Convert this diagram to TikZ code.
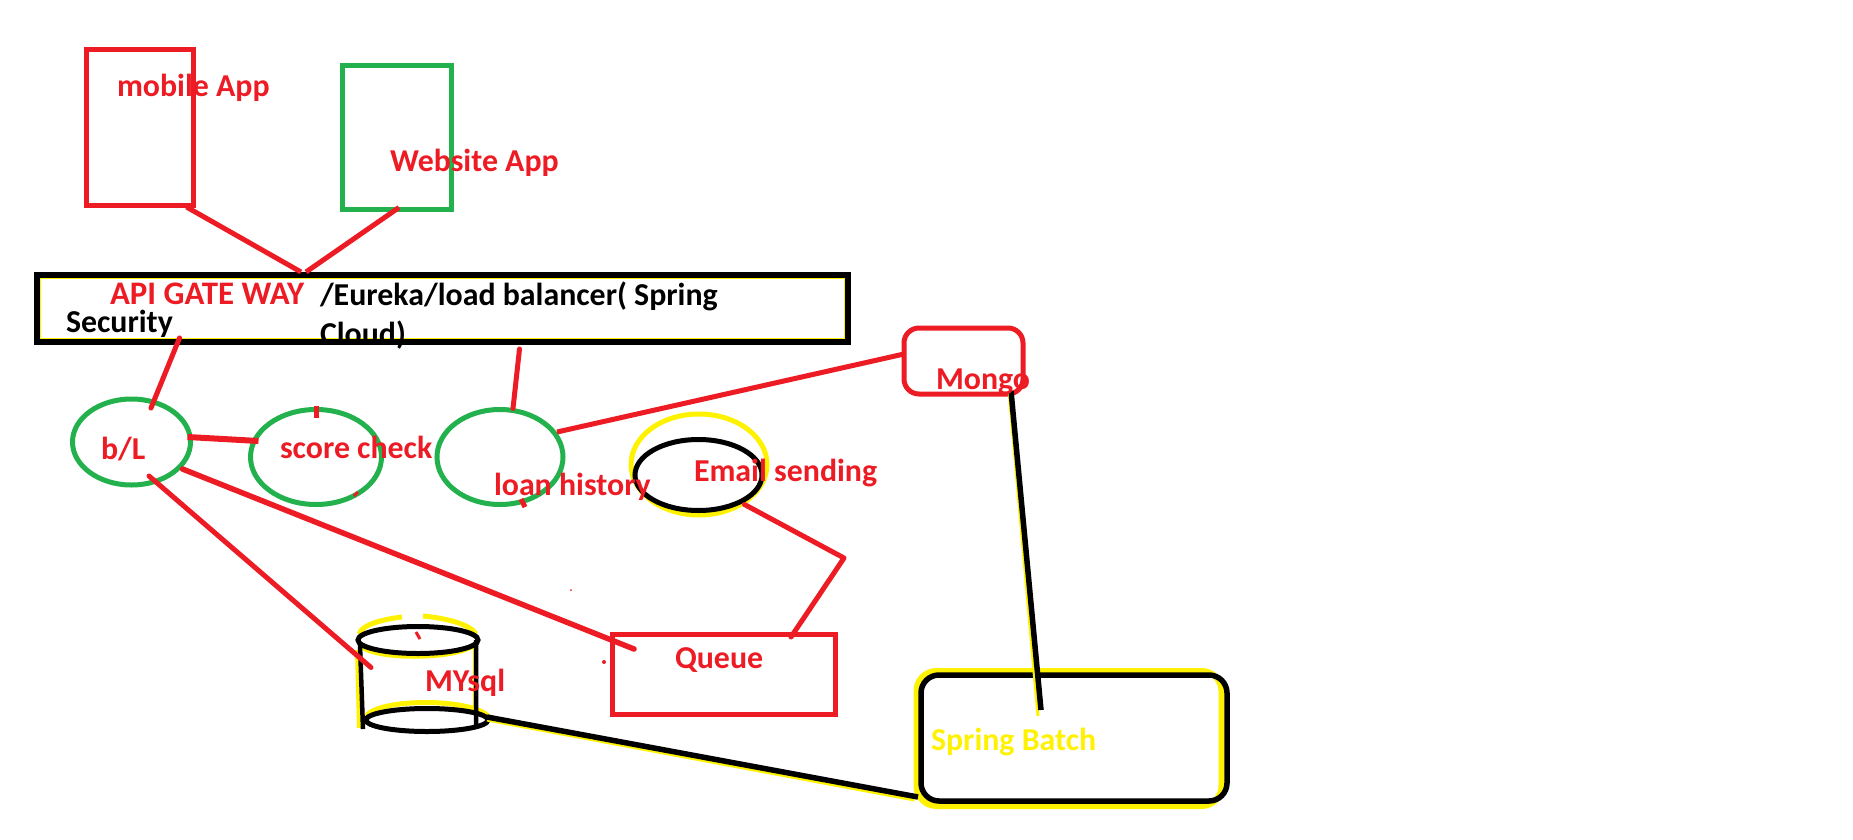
\documentclass[tikz,border=0pt]{standalone}
\usepackage{fontspec}
\setmainfont{Carlito}
\usetikzlibrary{shapes.geometric}
\definecolor{pred}{HTML}{ED1C24}
\definecolor{pgreen}{HTML}{22B14C}
\definecolor{pyellow}{HTML}{FFF200}
\tikzset{
  shapebase/.style={inner sep=0pt,outer sep=0pt,draw},
  box/.style={shapebase,rectangle},
  oval/.style={shapebase,ellipse},
  redbox/.style={box,draw=pred,line width=5bp},
  greenbox/.style={box,draw=pgreen,line width=5bp},
  greenoval/.style={oval,draw=pgreen,line width=5bp},
  blackoval/.style={oval,draw=black,line width=5bp},
  yellowoval/.style={oval,draw=pyellow,line width=5bp},
  redlink/.style={draw=pred,line width=5bp},
  blacklink/.style={draw=black,line width=5.5bp},
  yellowlink/.style={draw=pyellow,line width=3bp},
  tlabel/.style={inner sep=0pt,outer sep=0pt,anchor=base west,font=\fontsize{32}{32}\selectfont\bfseries},
  redtext/.style={tlabel,text=pred},
  blacktext/.style={tlabel,text=black},
  yellowtext/.style={tlabel,text=pyellow},
}
\begin{document}
\begin{tikzpicture}[x=1bp,y=-1bp]
\fill[white] (0,0) rectangle (1853,840);
\useasboundingbox (0,0) rectangle (1853,840);

% clients
\node[redbox,minimum width=107bp,minimum height=155bp] (mobile) at (140,127.5) {};
\node[greenbox,minimum width=109bp,minimum height=144bp] (website) at (397,137.5) {};

% gateway
\node[box,draw=pyellow,line width=3bp,minimum width=806bp,minimum height=62bp] (gatewayglow) at (442.5,308) {};
\node[box,draw=black,line width=6bp,minimum width=811bp,minimum height=67bp] (gateway) at (442.5,308.5) {};

% services
\node[greenoval,minimum width=118bp,minimum height=86bp] (bl) at (131.5,442) {};
\node[greenoval,minimum width=131bp,minimum height=95bp] (score) at (316,457) {};
\node[greenoval,minimum width=126bp,minimum height=95bp] (loan) at (500,457) {};
\node[yellowoval,minimum width=136bp,minimum height=101bp] (emailglow) at (699,464.5) {};
\node[blackoval,minimum width=127bp,minimum height=71bp] (email) at (698.5,475) {};
\node[redbox,minimum width=223bp,minimum height=80bp] (queue) at (724,674) {};
\node[box,rounded corners=15bp,draw=pred,line width=5bp,minimum width=119bp,minimum height=66bp] (mongo) at (963.5,361) {};

% spring batch
\node[box,rounded corners=20bp,draw=pyellow,line width=6bp,minimum width=305bp,minimum height=135bp] (batchglow) at (1069,738.5) {};
\node[box,rounded corners=18bp,draw=black,line width=5.5bp,minimum width=306bp,minimum height=126bp] (batch) at (1074,738) {};

% cylinder
\draw[pyellow,line width=5bp] (359,634) .. controls (362,624) and (385,619) .. (402,617);
\draw[pyellow,line width=5bp] (423,616) .. controls (445,618) and (470,624) .. (476,634);
\draw[pyellow,line width=5bp] (360,645) .. controls (372,660) and (455,660) .. (474,645);
\draw[pyellow,line width=4bp] (357,650) -- (359,728);
\draw[pyellow,line width=3bp] (474,645) -- (474,712);
\draw[pyellow,line width=5bp] (366,716) .. controls (380,698) and (470,698) .. (488,716);
\node[blackoval,minimum width=120bp,minimum height=27bp] (dbtop) at (418,640) {};
\node[blackoval,minimum width=122bp,minimum height=23bp] (dbbase) at (427,720) {};
\coordinate (dbleftbottom) at (363,729);
\coordinate (dbrightbottom) at (476,726);
\draw[blacklink,line width=4.5bp] ([shift={(2,5)}]dbtop.west) -- (dbleftbottom);
\draw[blacklink,line width=4.5bp] ([shift={(-2,0)}]dbtop.east) -- (dbrightbottom);

% red connectors
\coordinate (bend) at (844,558);
\draw[redlink] ([shift={(-7,2)}]mobile.south east) -- ([shift={(-141.5,-3)}]gateway.north);
\draw[redlink] ([shift={(2,-2)}]website.south) -- ([shift={(-136.5,-3)}]gateway.north);
\draw[redlink,line cap=round] ([shift={(-263,-4)}]gateway.south) -- ([shift={(19.5,9)}]bl.north);
\draw[redlink,line cap=round] ([shift={(77,7)}]gateway.south) -- ([shift={(13,-1)}]loan.north);
\draw[redlink,line width=6bp] ([shift={(-3,-5)}]bl.east) -- ([shift={(8,-16)}]score.west);
\draw[redlink,line width=5.5bp,line cap=round] ([shift={(-8,27)}]bl.east) -- ([shift={(21.5,15)}]queue.north west);
\draw[redlink,line cap=round] ([shift={(17.5,-9)}]bl.south) -- ([shift={(-47,14)}]dbtop.south);
\draw[redlink] ([shift={(-6,-25)}]loan.east) -- ([shift={(0,-7)}]mongo.west);
\draw[redlink,line cap=round,line join=round] ([shift={(46,-6)}]email.south) -- (bend) -- ([shift={(67,3)}]queue.north);

% small marks
\draw[redlink] ([shift={(0,-4)}]score.north) -- ([shift={(0,8)}]score.north);
\draw[draw=pred,line width=3bp] (354,496) -- (358,492);
\draw[redlink] (521,499) -- (525,507);
\draw[draw=pred,line width=3bp] (416,632) -- (420,639);
\fill[pred] (571,590) circle (1bp);
\fill[pred] (604,662) circle (2bp);

% black connectors with yellow edges
\draw[yellowlink] ([shift={(-1,0)}]dbbase.east) -- ([shift={(-2,-6)}]batchglow.south west);
\draw[blacklink] ([shift={(-1,-3)}]dbbase.east) -- ([shift={(-3,-4)}]batch.south west);
\draw[yellowlink] ([shift={(45.5,-3)}]mongo.south) -- ([shift={(-36,-85)}]batch.south);
\draw[blacklink] ([shift={(47.5,-3)}]mongo.south) -- ([shift={(-33,-91)}]batch.south);

% labels
\node[redtext] (tmobile) at (117,96.5) {mobile App};
\node[redtext] (twebsite) at (390,171.5) {Website App};
\node[redtext,font=\fontsize{33}{33}\selectfont\bfseries] (tapi) at (110,304.5) {API GATE WAY};
\node[blacktext] (tsecurity) at (66,332.5) {Security};
\node[blacktext] (teureka) at (320,305.5) {/Eureka/load balancer( Spring};
\node[blacktext] (tcloud) at (320,344) {Cloud)};
\node[redtext] (tbl) at (101,459.5) {b/L};
\node[redtext] (tscore) at (280,458.5) {score check};
\node[redtext] (tloan) at (494,495.5) {loan history};
\node[redtext] (temail) at (694,481.5) {Email sending};
\node[redtext] (tqueue) at (675,668.5) {Queue};
\node[redtext] (tmysql) at (425,691.5) {MYsql};
\node[redtext] (tmongo) at (936,389.5) {Mongo};
\node[yellowtext] (tbatch) at (931,750.5) {Spring Batch};
\end{tikzpicture}
\end{document}
